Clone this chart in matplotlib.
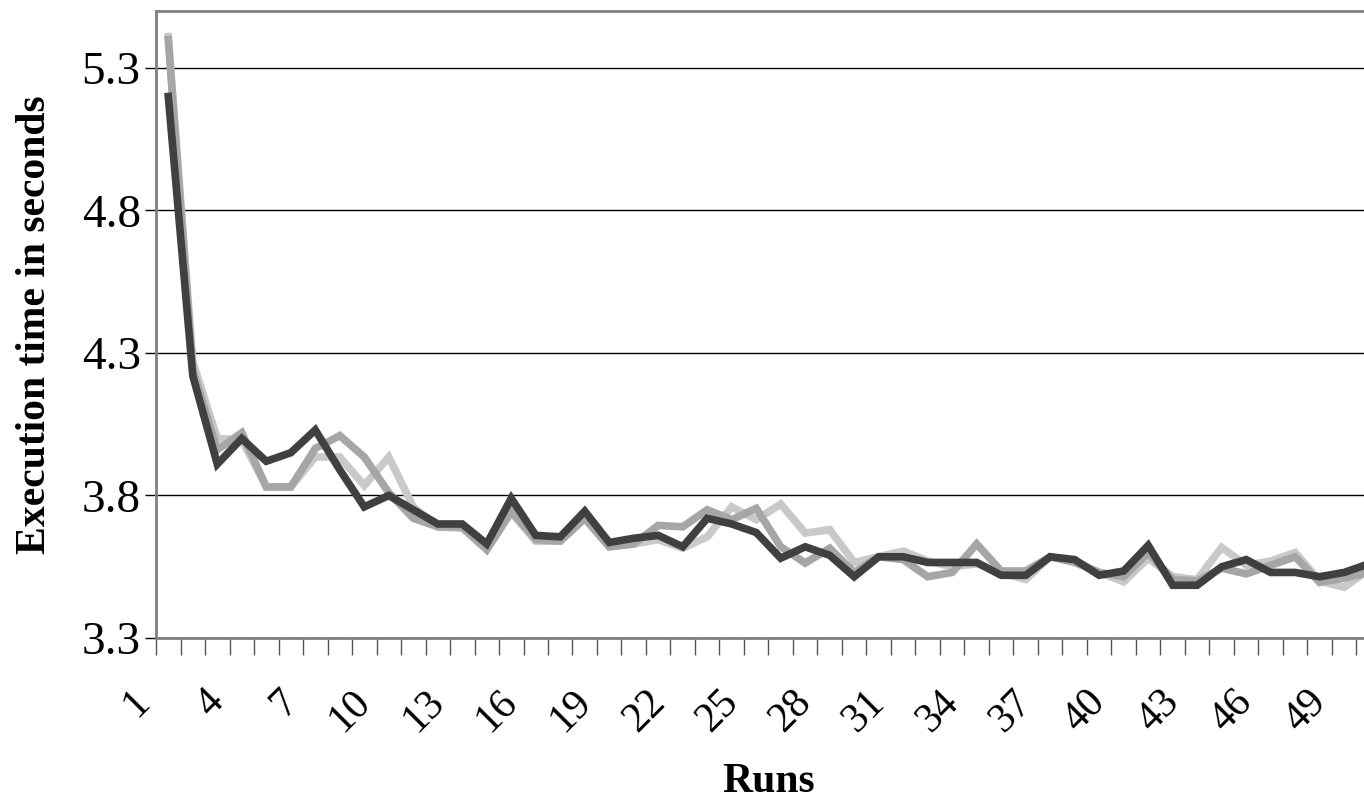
import numpy as np
import matplotlib
matplotlib.use('Agg')
import matplotlib.pyplot as plt
import matplotlib.transforms as mtransforms

# Execution time per run, three series (light, medium, dark grey)
runs = list(range(1, 51))
light = [5.41, 4.27, 4.00, 3.995, 3.83, 3.83, 3.935, 3.935, 3.835, 3.935,
         3.76, 3.69, 3.685, 3.61, 3.74, 3.64, 3.64, 3.72, 3.62, 3.63,
         3.645, 3.615, 3.655, 3.76, 3.715, 3.77, 3.668, 3.68, 3.565, 3.585,
         3.605, 3.57, 3.55, 3.56, 3.53, 3.505, 3.585, 3.57, 3.53, 3.497,
         3.58, 3.515, 3.505, 3.618, 3.555, 3.57, 3.60, 3.50, 3.478, 3.54]
medium = [5.40, 4.24, 3.96, 4.02, 3.83, 3.83, 3.965, 4.01, 3.935, 3.81,
          3.72, 3.69, 3.69, 3.61, 3.745, 3.645, 3.64, 3.72, 3.62, 3.63,
          3.695, 3.69, 3.75, 3.715, 3.755, 3.62, 3.563, 3.615, 3.53, 3.585,
          3.575, 3.515, 3.53, 3.63, 3.535, 3.535, 3.585, 3.565, 3.53, 3.515,
          3.60, 3.505, 3.50, 3.545, 3.525, 3.555, 3.585, 3.495, 3.51, 3.53]
dark = [5.20, 4.22, 3.91, 4.00, 3.92, 3.95, 4.03, 3.89, 3.76, 3.80,
        3.75, 3.70, 3.70, 3.63, 3.79, 3.66, 3.655, 3.745, 3.635, 3.65,
        3.66, 3.62, 3.72, 3.70, 3.67, 3.58, 3.62, 3.59, 3.515, 3.585,
        3.585, 3.565, 3.565, 3.565, 3.52, 3.52, 3.585, 3.575, 3.52, 3.535,
        3.625, 3.485, 3.485, 3.55, 3.575, 3.53, 3.53, 3.515, 3.53, 3.56]

yticks = [3.3, 3.8, 4.3, 4.8, 5.3]
xlabels = runs[::3]

plt.rcParams['font.family'] = ['Liberation Serif', 'DejaVu Serif']

fig = plt.figure(figsize=(13.64, 8.02), dpi=100)
# plot area runs past the right edge, like the cropped original
ax = fig.add_axes([0.1144, 0.2045, 0.898, 0.7818])

ax.plot(runs, light, color='#c9c9c9', lw=5.5, solid_joinstyle='miter', zorder=3)
ax.plot(runs, medium, color='#a6a6a6', lw=5.5, solid_joinstyle='miter', zorder=4)
ax.plot(runs, dark, color='#404040', lw=5.5, solid_joinstyle='miter', zorder=5)

ax.set_xlim(0.5, 50.5)
ax.set_ylim(3.3, 5.5)

ax.set_yticks(yticks)
ax.set_yticklabels(['%.1f' % v for v in yticks], fontsize=34)
ax.yaxis.grid(True, color='black', lw=1)
ax.set_axisbelow(True)
ax.tick_params(axis='y', length=8, width=1, color='black', pad=3)

# category tick marks between runs, labels every third run
ax.set_xticks(np.arange(0.5, 51, 1), minor=True)
ax.set_xticks(xlabels)
ax.set_xticklabels([str(v) for v in xlabels], fontsize=30, rotation=45,
                   ha='right', va='center', rotation_mode='anchor')
ax.tick_params(axis='x', which='major', length=0, pad=42)
ax.tick_params(axis='x', which='minor', length=12, width=1, color='#555555')
offset = mtransforms.ScaledTranslation(-24 / 100, 0, fig.dpi_scale_trans)
for lab in ax.get_xticklabels():
    lab.set_transform(lab.get_transform() + offset)

for side in ['left', 'top', 'bottom']:
    ax.spines[side].set_color('#808080')
    ax.spines[side].set_linewidth(2)
ax.spines['right'].set_visible(False)

ax.set_ylabel('Execution time in seconds', fontsize=30, fontweight='bold', labelpad=20)
ax.set_xlabel('Runs', fontsize=30, fontweight='bold', labelpad=17)

fig.savefig('out.png', dpi=100)
